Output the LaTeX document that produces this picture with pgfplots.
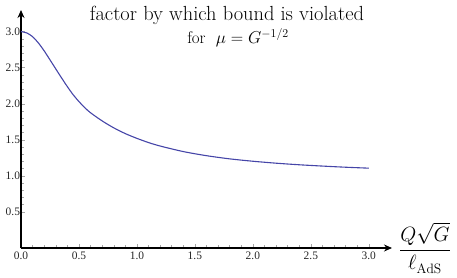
\documentclass[border=0pt]{standalone}
\usepackage{amsmath}
\usepackage{fontspec}
\newfontfamily\tickfont{Liberation Serif}
\usepackage{pgfplots}
\pgfplotsset{compat=1.18}
\usetikzlibrary{arrows.meta}
\definecolor{mcurve}{rgb}{0.27,0.27,0.66}
\begin{document}
\begin{tikzpicture}[x=1bp,y=1bp]
\begin{axis}[
  scale only axis,
  width=371bp, height=238bp,
  xmin=0, xmax=3.2, ymin=0, ymax=3.3,
  axis lines=left,
  axis line style={line width=2.2bp, -{Stealth[length=8bp,width=7bp]}},
  clip=false,
  xtick={0,0.5,...,3.0},
  ytick={0.5,1.0,...,3.0},
  minor tick num=4,
  tick align=inside,
  major tick length=4bp,
  minor tick length=2.5bp,
  tick style={gray!70, line width=0.5bp},
  xticklabel style={/pgf/number format/.cd, fixed, fixed zerofill, precision=1, assume math mode=true},
  yticklabel style={/pgf/number format/.cd, fixed, fixed zerofill, precision=1, assume math mode=true},
  tick label style={font=\tickfont\fontsize{11.5}{12}\selectfont, text=black!85},
  xticklabel shift=0bp,
  yticklabel shift=-2.5bp,
]
\coordinate (O) at (axis cs:0,0);
\addplot[mcurve, line width=1.1bp, smooth] coordinates {
(0,3.00) (0.05,2.982) (0.1,2.93) (0.15,2.843) (0.2,2.733) (0.25,2.609) (0.3,2.483)
(0.35,2.358) (0.4,2.237) (0.45,2.125) (0.5,2.03) (0.55,1.946) (0.6,1.875) (0.7,1.762)
(0.8,1.666) (0.9,1.586) (1.0,1.52) (1.1,1.462) (1.2,1.414) (1.4,1.337) (1.6,1.28)
(1.8,1.236) (2.0,1.203) (2.2,1.176) (2.4,1.154) (2.6,1.136) (2.8,1.12) (3.0,1.107)};
\node[anchor=west, font=\fontsize{19.5}{22}\selectfont, inner sep=0pt] at (axis cs:3.26,0) {$\dfrac{Q\sqrt{G}}{\ell_{\mathrm{AdS}}}$};
\end{axis}
\node[anchor=base, font=\fontsize{20.5}{24}\selectfont, inner sep=0pt] at ([xshift=206bp, yshift=227bp]O) {factor by which bound is violated};
\node[anchor=base, font=\fontsize{17}{18}\selectfont, inner sep=0pt] at ([xshift=217bp, yshift=204bp]O) {for \ $\mu=G^{-1/2}$};
\pgfresetboundingbox
\useasboundingbox ([xshift=-21bp, yshift=-30bp]O) rectangle ++(457bp,278bp);
\end{tikzpicture}
\end{document}
